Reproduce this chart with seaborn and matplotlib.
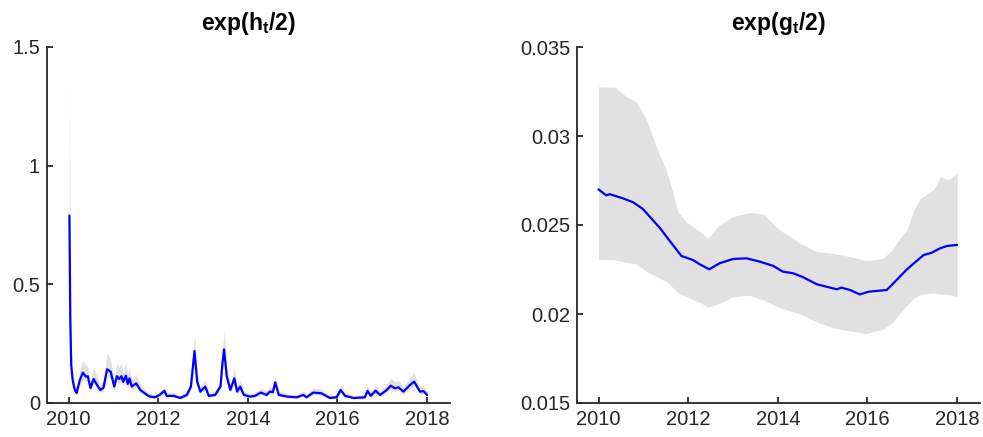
import numpy as np
import pandas as pd
import matplotlib
matplotlib.use("Agg")
import matplotlib.pyplot as plt
import seaborn as sns

# ---------------- data: left panel exp(h_t/2) ----------------
h_years = [2010.02, 2010.04, 2010.06, 2010.09, 2010.13, 2010.18, 2010.25, 2010.32, 2010.39, 2010.43,
           2010.49, 2010.56, 2010.64, 2010.71, 2010.78, 2010.86, 2010.94, 2011.02, 2011.08, 2011.13,
           2011.18, 2011.22, 2011.28, 2011.32, 2011.36, 2011.41, 2011.51, 2011.60, 2011.75, 2011.82,
           2011.93, 2012.03, 2012.14, 2012.19, 2012.35, 2012.49, 2012.64, 2012.73, 2012.81, 2012.87,
           2012.94, 2013.05, 2013.13, 2013.27, 2013.39, 2013.43, 2013.47, 2013.53, 2013.61, 2013.70,
           2013.76, 2013.83, 2013.91, 2014.05, 2014.16, 2014.29, 2014.42, 2014.49, 2014.56, 2014.61,
           2014.69, 2014.88, 2015.09, 2015.24, 2015.31, 2015.46, 2015.64, 2015.83, 2015.98, 2016.07,
           2016.17, 2016.36, 2016.61, 2016.67, 2016.74, 2016.85, 2016.95, 2017.10, 2017.19, 2017.28,
           2017.36, 2017.47, 2017.62, 2017.71, 2017.84, 2017.92, 2018.00]
h_mean = [0.79, 0.35, 0.16, 0.10, 0.06, 0.042, 0.095, 0.128, 0.111, 0.113,
          0.063, 0.101, 0.075, 0.055, 0.064, 0.142, 0.132, 0.069, 0.113, 0.101,
          0.113, 0.089, 0.115, 0.080, 0.104, 0.069, 0.083, 0.055, 0.034, 0.027,
          0.024, 0.034, 0.051, 0.030, 0.030, 0.021, 0.034, 0.069, 0.219, 0.090,
          0.048, 0.069, 0.030, 0.034, 0.069, 0.160, 0.226, 0.112, 0.055, 0.104,
          0.048, 0.069, 0.034, 0.027, 0.030, 0.044, 0.034, 0.048, 0.046, 0.087,
          0.034, 0.027, 0.024, 0.034, 0.024, 0.044, 0.041, 0.021, 0.024, 0.055,
          0.030, 0.021, 0.024, 0.051, 0.030, 0.052, 0.034, 0.055, 0.073, 0.062,
          0.066, 0.048, 0.076, 0.090, 0.048, 0.050, 0.034]
h_lower = [0.70, 0.30, 0.13, 0.085, 0.05, 0.035, 0.075, 0.10, 0.09, 0.09,
           0.05, 0.08, 0.06, 0.045, 0.05, 0.11, 0.10, 0.055, 0.09, 0.08,
           0.09, 0.07, 0.09, 0.065, 0.08, 0.055, 0.065, 0.045, 0.028, 0.022,
           0.019, 0.027, 0.04, 0.024, 0.024, 0.017, 0.027, 0.055, 0.17, 0.07,
           0.038, 0.055, 0.024, 0.027, 0.055, 0.13, 0.18, 0.09, 0.045, 0.08,
           0.038, 0.055, 0.027, 0.021, 0.024, 0.035, 0.027, 0.038, 0.037, 0.07,
           0.027, 0.021, 0.019, 0.027, 0.019, 0.035, 0.033, 0.017, 0.019, 0.044,
           0.024, 0.017, 0.019, 0.04, 0.024, 0.041, 0.027, 0.044, 0.058, 0.05,
           0.053, 0.038, 0.06, 0.072, 0.038, 0.04, 0.027]
h_upper = [1.45, 0.55, 0.22, 0.14, 0.09, 0.06, 0.14, 0.18, 0.16, 0.155,
           0.09, 0.15, 0.11, 0.08, 0.10, 0.21, 0.18, 0.10, 0.17, 0.15,
           0.17, 0.13, 0.17, 0.12, 0.15, 0.10, 0.12, 0.08, 0.05, 0.04,
           0.036, 0.05, 0.07, 0.045, 0.045, 0.032, 0.05, 0.10, 0.29, 0.13,
           0.07, 0.10, 0.045, 0.05, 0.10, 0.22, 0.30, 0.16, 0.08, 0.15,
           0.07, 0.10, 0.05, 0.04, 0.045, 0.063, 0.05, 0.068, 0.065, 0.12,
           0.05, 0.04, 0.036, 0.05, 0.036, 0.063, 0.06, 0.032, 0.036, 0.077,
           0.045, 0.032, 0.036, 0.073, 0.045, 0.075, 0.05, 0.08, 0.105, 0.09,
           0.095, 0.07, 0.107, 0.127, 0.07, 0.072, 0.05]

# ---------------- data: right panel exp(g_t/2) ----------------
g_years = [2010.00, 2010.17, 2010.25, 2010.54, 2010.77, 2010.99, 2011.21, 2011.38, 2011.59, 2011.85,
           2012.11, 2012.26, 2012.47, 2012.70, 2013.00, 2013.30, 2013.60, 2013.90, 2014.11, 2014.34,
           2014.57, 2014.87, 2015.09, 2015.31, 2015.42, 2015.61, 2015.83, 2016.02, 2016.43, 2016.65,
           2016.88, 2017.06, 2017.25, 2017.43, 2017.62, 2017.77, 2018.00]
g_mean = [0.0270, 0.02667, 0.02673, 0.0265, 0.02628, 0.0259, 0.02528, 0.0248, 0.0241, 0.02326,
          0.02303, 0.02279, 0.02251, 0.02285, 0.02309, 0.02313, 0.02294, 0.0227, 0.02238, 0.02229,
          0.02206, 0.02167, 0.02153, 0.02139, 0.02148, 0.02135, 0.0211, 0.02125, 0.02135, 0.02191,
          0.02251, 0.0229, 0.02331, 0.02344, 0.02369, 0.02382, 0.02388]
g_band_years = [2010.00, 2010.36, 2010.62, 2010.84, 2011.07, 2011.29, 2011.51, 2011.65, 2011.77, 2011.95,
                2012.11, 2012.30, 2012.44, 2012.70, 2013.00, 2013.37, 2013.67, 2014.04, 2014.50, 2014.87,
                2015.24, 2015.61, 2015.98, 2016.35, 2016.55, 2016.75, 2016.88, 2017.03, 2017.18, 2017.47,
                2017.62, 2017.80, 2018.00]
g_upper = [0.03277, 0.03273, 0.03221, 0.03193, 0.0309, 0.0294, 0.02809, 0.02690, 0.02575, 0.02520,
           0.0249, 0.02455, 0.02425, 0.025, 0.02547, 0.02569, 0.02562, 0.02472, 0.02397, 0.0235,
           0.02341, 0.02322, 0.02299, 0.02313, 0.02360, 0.02435, 0.02472, 0.02584, 0.0265, 0.02697,
           0.02771, 0.02753, 0.0279]
g_lower = [0.02307, 0.02305, 0.0229, 0.0228, 0.0224, 0.0221, 0.02182, 0.0215, 0.0212, 0.0210,
           0.0208, 0.0206, 0.02038, 0.0206, 0.02097, 0.02105, 0.02079, 0.02035, 0.0200, 0.01955,
           0.01922, 0.01905, 0.0189, 0.01915, 0.01950, 0.0201, 0.0205, 0.02088, 0.0211, 0.02118,
           0.02112, 0.0211, 0.02097]

x_ticks = [2010, 2012, 2014, 2016, 2018]
h_yticks = [0, 0.5, 1, 1.5]
h_yticklabels = ["0", "0.5", "1", "1.5"]
g_yticks = [0.015, 0.02, 0.025, 0.03, 0.035]
g_yticklabels = ["0.015", "0.02", "0.025", "0.03", "0.035"]
titles = [r"$\mathbf{exp(h_t/2)}$", r"$\mathbf{exp(g_t/2)}$"]

# ---------------- styling ----------------
sns.set_theme(style="white")
plt.rcParams["font.family"] = ["Liberation Sans", "DejaVu Sans"]
plt.rcParams["mathtext.fontset"] = "custom"
plt.rcParams["mathtext.rm"] = "Liberation Sans"
plt.rcParams["mathtext.it"] = "Liberation Sans:italic"
plt.rcParams["mathtext.bf"] = "Liberation Sans:bold"

ink = "#262626"
band_color = "#e1e1e1"
line_color = "#0000ff"

fig = plt.figure(figsize=(9.83, 4.37), dpi=100)
ax1 = fig.add_axes([47 / 983, 1 - 403 / 437, 403 / 983, 356 / 437])
ax2 = fig.add_axes([577 / 983, 1 - 403 / 437, 403 / 983, 356 / 437])

df_h = pd.DataFrame({"year": h_years, "value": h_mean})
df_g = pd.DataFrame({"year": g_years, "value": g_mean})

ax1.fill_between(h_years, h_lower, h_upper, color=band_color, linewidth=0)
sns.lineplot(data=df_h, x="year", y="value", ax=ax1, color=line_color, linewidth=1.6)

ax2.fill_between(g_band_years, g_lower, g_upper, color=band_color, linewidth=0)
sns.lineplot(data=df_g, x="year", y="value", ax=ax2, color=line_color, linewidth=1.6)

for ax, yt, ytl, ylim, title in [
    (ax1, h_yticks, h_yticklabels, (0, 1.5), titles[0]),
    (ax2, g_yticks, g_yticklabels, (0.015, 0.035), titles[1]),
]:
    ax.set_xlim(2009.52, 2018.51)
    ax.set_ylim(*ylim)
    ax.set_xticks(x_ticks)
    ax.set_xticklabels([str(t) for t in x_ticks])
    ax.set_yticks(yt)
    ax.set_yticklabels(ytl)
    ax.set_xlabel("")
    ax.set_ylabel("")
    for s in ["top", "right"]:
        ax.spines[s].set_visible(False)
    for s in ["left", "bottom"]:
        ax.spines[s].set_color(ink)
        ax.spines[s].set_linewidth(1.3)
    ax.tick_params(axis="both", direction="in", length=4, width=1.3, color=ink,
                   labelcolor=ink, labelsize=14.5, left=True, bottom=True, pad=5)
    ax.set_title(title, fontsize=16.5, color="black", pad=12)
    ax.grid(False)

fig.savefig("out.png", dpi=100)
